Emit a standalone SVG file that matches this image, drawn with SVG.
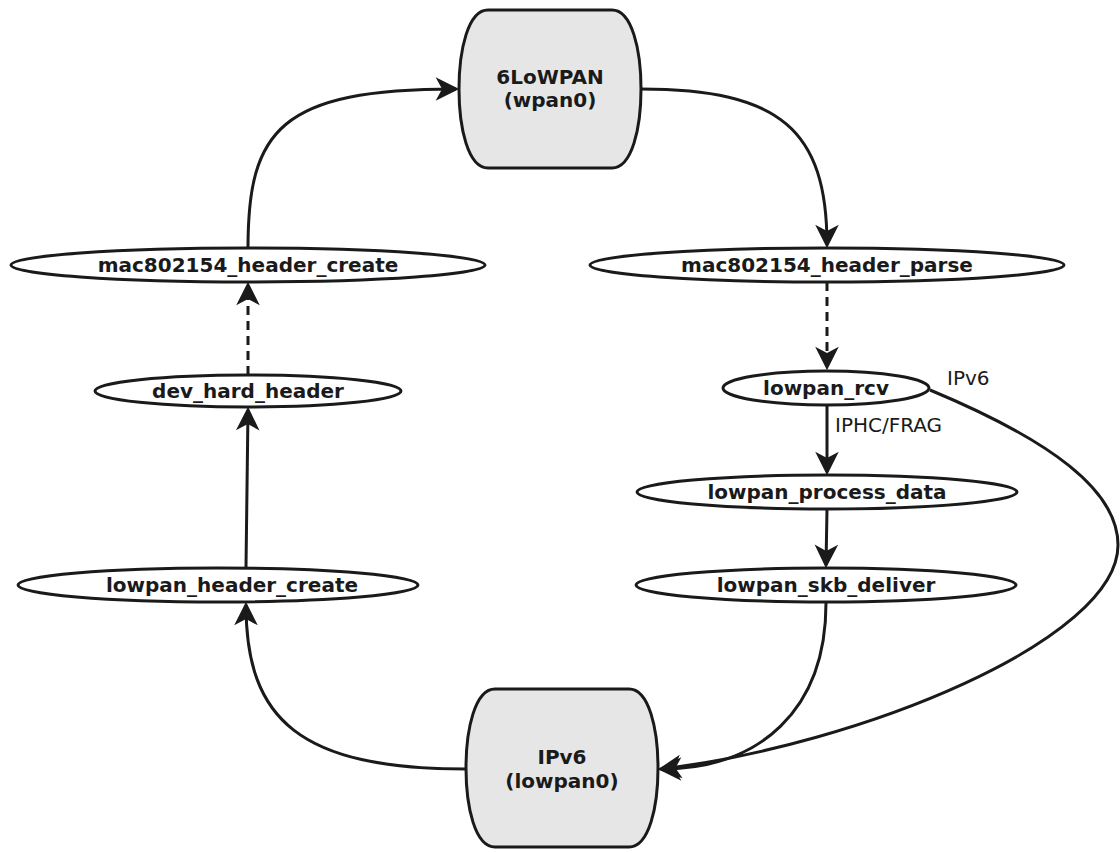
<svg xmlns="http://www.w3.org/2000/svg" width="1120" height="853" viewBox="0 0 1120 853">
<style>
.node ellipse{fill:#fff;stroke:#1a1a1a;stroke-width:3}
.dev path{fill:#e6e6e6;stroke:#1a1a1a;stroke-width:3}
.lbl{font-family:"DejaVu Sans",sans-serif;font-weight:bold;font-size:20px;fill:#1a1a1a;text-anchor:middle}
.elbl{font-family:"DejaVu Sans",sans-serif;font-size:20px;fill:#1a1a1a}
.edge{fill:none;stroke:#1a1a1a;stroke-width:3}
.dash{stroke-dasharray:9,6}
</style>
<defs>
<marker id="ah" markerUnits="userSpaceOnUse" markerWidth="30" markerHeight="30" viewBox="-22 -13 28 26" refX="0" refY="0" orient="auto">
<path d="M3,0 L-19,-11 L-13,0 L-19,11 Z" fill="#1a1a1a"/>
</marker>
</defs>
<g id="connectors">
<path class="edge" d="M248,248 C248,130 280,89 456,89" marker-end="url(#ah)"/>
<path class="edge" d="M641,89 C780,89 827,130 827,245" marker-end="url(#ah)"/>
<path class="edge dash" d="M827,282 L827,367" marker-end="url(#ah)"/>
<path class="edge dash" d="M248,375 L248,285" marker-end="url(#ah)"/>
<path class="edge" d="M246,567 L248,410" marker-end="url(#ah)"/>
<path class="edge" d="M466,769 C300,769 246,720 246,605" marker-end="url(#ah)"/>
<path class="edge" d="M827,405 L827,472" marker-end="url(#ah)"/>
<path class="edge" d="M827,509 L826,565" marker-end="url(#ah)"/>
<path class="edge" d="M826,603 C826,710 760,769 661,769" marker-end="url(#ah)"/>
<path class="edge" d="M930,390 C1050,440 1118,490 1118,545 C1118,640 860,745 661,769" marker-end="url(#ah)"/>
<text class="elbl" x="947" y="385">IPv6</text>
<text class="elbl" x="835" y="432">IPHC/FRAG</text>
</g>
<g id="n6lowpan" class="dev">
<path d="M488,10 H612 C632,10 641,50 641,89 C641,128 632,168 612,168 H488 C468,168 459,128 459,89 C459,50 468,10 488,10 Z"/>
<text class="lbl" x="550" y="84">6LoWPAN</text>
<text class="lbl" x="550" y="107">(wpan0)</text>
</g>
<g id="nipv6" class="dev">
<path d="M495,689 H629 C649,689 658,729 658,768 C658,807 649,847 629,847 H495 C475,847 466,807 466,768 C466,729 475,689 495,689 Z"/>
<text class="lbl" x="562" y="764">IPv6</text>
<text class="lbl" x="562" y="788">(lowpan0)</text>
</g>
<g id="mac_create" class="node"><ellipse cx="248" cy="265" rx="237" ry="17"/><text class="lbl" x="248" y="272">mac802154_header_create</text></g>
<g id="mac_parse" class="node"><ellipse cx="827" cy="265" rx="237" ry="17"/><text class="lbl" x="827" y="272">mac802154_header_parse</text></g>
<g id="dev_hard" class="node"><ellipse cx="248" cy="391" rx="153" ry="16"/><text class="lbl" x="248" y="398">dev_hard_header</text></g>
<g id="lowpan_rcv" class="node"><ellipse cx="826" cy="388" rx="103" ry="17"/><text class="lbl" x="826" y="395">lowpan_rcv</text></g>
<g id="lowpan_process" class="node"><ellipse cx="827" cy="492" rx="190" ry="17"/><text class="lbl" x="827" y="499">lowpan_process_data</text></g>
<g id="lowpan_skb" class="node"><ellipse cx="826" cy="585" rx="190" ry="17"/><text class="lbl" x="826" y="592">lowpan_skb_deliver</text></g>
<g id="lowpan_hdr" class="node"><ellipse cx="218" cy="585" rx="200" ry="17"/><text class="lbl" x="232" y="592">lowpan_header_create</text></g>
</svg>
